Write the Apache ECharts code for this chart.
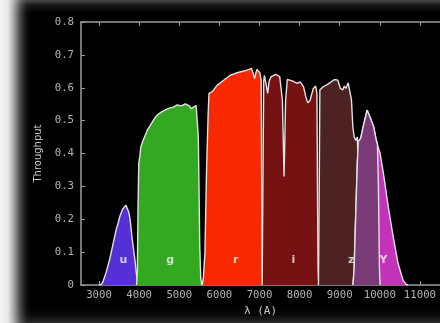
<!DOCTYPE html>
<html>
<head>
<meta charset="utf-8">
<script src="https://cdn.jsdelivr.net/npm/echarts@6/dist/echarts.min.js"></script>
<style>
html,body{margin:0;padding:0;background:#000;}
#wrap{position:relative;width:440px;height:323px;overflow:hidden;
background:
 linear-gradient(to right, rgba(245,245,245,1) 0px, rgba(232,232,232,1) 8px, rgba(215,215,215,0.75) 14px, rgba(150,150,150,0.5) 20px, rgba(80,80,80,0.2) 26px, rgba(0,0,0,0) 31px),
 linear-gradient(to bottom, rgba(85,85,85,0.9) 0px, rgba(40,40,40,0.6) 5px, rgba(0,0,0,0) 13px),
 linear-gradient(to top, rgba(45,45,45,0.9) 0px, rgba(20,20,20,0.5) 8px, rgba(0,0,0,0) 16px),
 #000;}
#chart{position:absolute;left:0;top:0;width:440px;height:323px;}
</style>
</head>
<body>
<div id="wrap"><div id="chart"></div></div>
<script>
// Filter names and label positions
const filterNames = ['u','g','r','i','z','Y'];
const labelLambda = [3605, 4773, 6407, 7846, 9285, 10088];
const labelThroughput = [0.075, 0.075, 0.075, 0.075, 0.075, 0.075];
const xTickLabels = [3000,4000,5000,6000,7000,8000,9000,10000,11000];
const yTickLabels = [0,0.1,0.2,0.3,0.4,0.5,0.6,0.7,0.8];

// Throughput curves: [wavelength (A), throughput]
const uCurve = [[3000,0],[3060,0.002],[3098,0.01],[3180,0.04],[3261,0.076],[3340,0.12],[3424,0.167],[3480,0.19],[3522,0.21],[3585,0.23],[3630,0.236],[3668,0.243],[3690,0.238],[3707,0.246],[3740,0.222],[3773,0.2],[3829,0.137],[3895,0.076],[3951,0.012],[3990,0.002],[4010,0]];
const gCurve = [[3935,0],[3955,0.04],[3970,0.22],[3990,0.37],[4017,0.392],[4041,0.42],[4100,0.44],[4200,0.47],[4300,0.49],[4400,0.51],[4480,0.52],[4550,0.526],[4650,0.533],[4750,0.538],[4850,0.541],[4950,0.548],[5050,0.545],[5150,0.551],[5250,0.545],[5300,0.536],[5350,0.541],[5420,0.546],[5456,0.54],[5475,0.45],[5492,0.3],[5510,0.12],[5535,0.02],[5560,0]];
const rCurve = [[5570,0],[5600,0.02],[5640,0.1],[5680,0.35],[5720,0.52],[5741,0.583],[5824,0.588],[5946,0.608],[6107,0.623],[6268,0.638],[6400,0.644],[6512,0.648],[6676,0.653],[6798,0.659],[6840,0.645],[6878,0.628],[6910,0.645],[6937,0.656],[6976,0.662],[7010,0.645],[7042,0.623],[7055,0.3],[7066,0.05],[7080,0]];
const iCurve = [[7066,0],[7085,0.3],[7105,0.62],[7122,0.638],[7165,0.61],[7205,0.583],[7240,0.62],[7285,0.633],[7407,0.641],[7505,0.633],[7571,0.562],[7600,0.4],[7612,0.33],[7625,0.4],[7651,0.562],[7693,0.625],[7815,0.621],[7937,0.613],[8017,0.618],[8098,0.603],[8160,0.57],[8205,0.554],[8261,0.562],[8341,0.598],[8400,0.605],[8432,0.583],[8445,0.3],[8460,0.05],[8480,0]];
const zCurve = [[8470,0],[8490,0.3],[8505,0.593],[8585,0.603],[8707,0.611],[8871,0.625],[8951,0.623],[9017,0.598],[9073,0.593],[9115,0.605],[9156,0.598],[9212,0.615],[9261,0.621],[9293,0.562],[9327,0.481],[9359,0.451],[9400,0.44],[9440,0.45],[9470,0.3],[9500,0]];
const yCurve = [[9330,0],[9360,0.05],[9400,0.219],[9439,0.37],[9463,0.436],[9490,0.44],[9522,0.446],[9602,0.491],[9683,0.532],[9766,0.507],[9846,0.481],[9910,0.441],[9941,0.426],[10007,0.4],[10088,0.34],[10210,0.238],[10332,0.147],[10454,0.066],[10576,0.015],[10656,0.002],[10700,0]];
const yPurpleCurve = [[9330,0],[9360,0.05],[9400,0.219],[9439,0.37],[9463,0.436],[9490,0.44],[9522,0.446],[9602,0.491],[9683,0.532],[9766,0.507],[9846,0.481],[9910,0.441],[9941,0.426],[9965,0.3],[9990,0.05],[10007,0]];

const fillColors = ['#5530d6','#33a821','#f82800','#761212','#4c2222','#c332b8','#7a3a78'];
const curves = [uCurve, gCurve, rCurve, iCurve, zCurve, yCurve, yPurpleCurve];

const chart = echarts.init(document.getElementById('chart'), null, {renderer:'canvas'});
const axisColor = '#9c9c9c';
const monoFont = 'DejaVu Sans Mono';

const series = curves.map((c, k) => ({
  type: 'line',
  data: c,
  symbol: 'none',
  smooth: false,
  z: 2 + k,
  lineStyle: {color: '#e2e2e2', width: 1.4},
  areaStyle: {color: fillColors[k], opacity: 1},
  silent: true
}));
series.push({
  type: 'scatter',
  z: 20,
  symbolSize: 2,
  itemStyle: {color: 'rgba(0,0,0,0)'},
  data: filterNames.map((n, k) => ({name: n, value: [labelLambda[k], labelThroughput[k]]})),
  label: {show: true, position: 'inside', formatter: p => p.name, color: '#f0f0f0',
          fontSize: 11, fontWeight: 'bold', fontFamily: 'DejaVu Sans'}
});

chart.setOption({
  backgroundColor: 'transparent',
  animation: false,
  grid: {left: 81, top: 22, width: 367, height: 263, backgroundColor: '#000', show: true, borderWidth: 0},
  xAxis: [{
    type: 'value', min: 2550, max: 11500, position: 'bottom',
    name: 'λ (A)', nameLocation: 'middle', nameGap: 17,
    nameTextStyle: {color: '#c8c8c8', fontSize: 11, fontFamily: monoFont},
    axisLine: {show: true, lineStyle: {color: axisColor, width: 1.5}},
    axisTick: {show: true, inside: true, length: 4, lineStyle: {color: axisColor}, customValues: xTickLabels},
    axisLabel: {color: '#b4b4b4', fontSize: 10.7, fontFamily: monoFont, margin: 5, customValues: xTickLabels,
      formatter: v => String(v)},
    splitLine: {show: false}
  },{
    type: 'value', min: 2550, max: 11500, position: 'top',
    axisLine: {show: true, lineStyle: {color: axisColor, width: 1.5}},
    axisTick: {show: true, inside: true, length: 4, lineStyle: {color: axisColor}, customValues: xTickLabels},
    axisLabel: {show: false},
    splitLine: {show: false}
  }],
  yAxis: [{
    type: 'value', min: 0, max: 0.8, interval: 0.1,
    name: 'Throughput', nameLocation: 'middle', nameGap: 30,
    nameTextStyle: {color: '#c8c8c8', fontSize: 10, fontFamily: 'DejaVu Sans'},
    axisLine: {show: true, lineStyle: {color: axisColor, width: 1.5}},
    axisTick: {show: true, inside: true, length: 4, lineStyle: {color: axisColor}},
    axisLabel: {color: '#b4b4b4', fontSize: 10.7, fontFamily: monoFont, margin: 7,
      formatter: v => (Math.abs(v) < 1e-9 ? '0' : v.toFixed(1))},
    splitLine: {show: false}
  }],
  series: series
});
</script>
</body>
</html>
